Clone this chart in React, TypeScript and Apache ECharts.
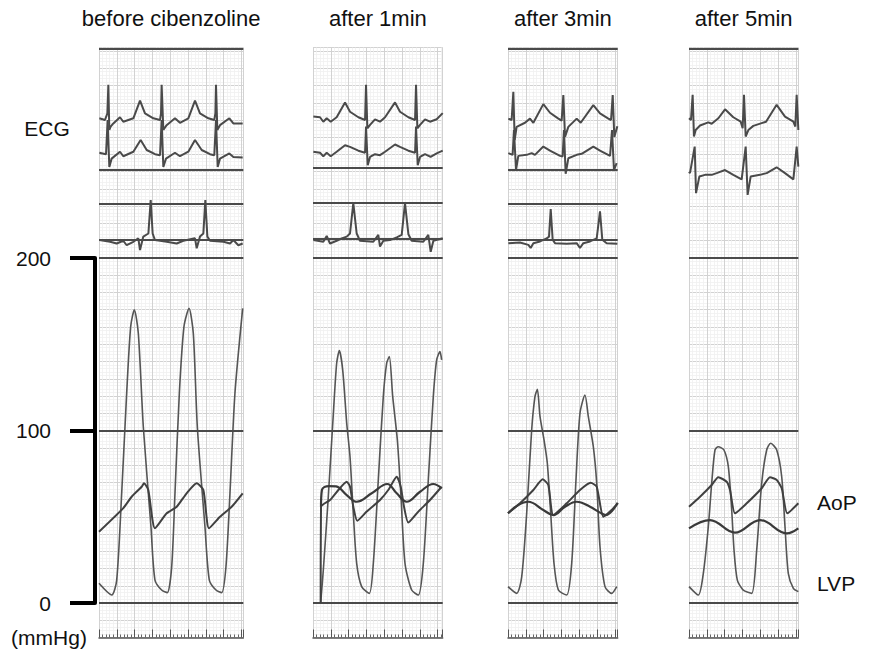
import React, { useEffect, useRef } from "react";
import * as echarts from "echarts";

// ---------- text ----------
const panelTitles = ["before cibenzoline", "after 1min", "after 3min", "after 5min"];
const pressureTicks = [0, 100, 200];

// ---------- pressure traces: [time s, mmHg] ----------
const lvp1 = [[0,11.4],[0.143,4.6],[0.199,13.3],[0.255,63.6],[0.311,121.6],[0.356,160.2],[0.397,169.9],[0.442,156.3],[0.498,102.2],[0.584,44.2],[0.629,13.3],[0.704,7.5],[0.768,6.0],[0.817,21.0],[0.854,63.6],[0.903,121.6],[0.955,160.2],[1.012,170.8],[1.06,156.3],[1.105,102.2],[1.191,44.2],[1.24,13.3],[1.315,7.5],[1.379,6.0],[1.427,21.0],[1.472,63.6],[1.528,121.6],[1.615,170.8]];
const aopA1 = [[0,41.3],[0.273,55.0],[0.367,61.6],[0.48,67.4],[0.506,69.4],[0.554,65.5],[0.629,43.3],[0.761,52.0],[0.873,55.8],[0.985,63.6],[1.098,69.4],[1.173,65.5],[1.236,43.3],[1.36,50.0],[1.491,55.8],[1.615,63.6]];

const lvp2 = [[0.086,0],[0.116,19.1],[0.172,61.6],[0.229,110],[0.266,139],[0.296,146.3],[0.334,135],[0.379,104.2],[0.416,84.8],[0.453,52],[0.491,23],[0.547,9.5],[0.633,5.6],[0.678,23],[0.734,71.3],[0.79,119.6],[0.828,139],[0.858,142.8],[0.896,119.6],[0.948,94.5],[0.989,61.6],[1.034,23],[1.109,7.5],[1.184,4.6],[1.24,23],[1.296,71.3],[1.352,119.6],[1.39,140.9],[1.427,145.7],[1.446,140.9]];
const aopA2 = [[0.086,0],[0.09,55.8],[0.191,59.7],[0.285,65.5],[0.379,70.3],[0.416,67.4],[0.453,55.8],[0.498,47.7],[0.604,53],[0.753,59.7],[0.846,65.5],[0.941,73.2],[0.986,67.4],[1.023,55.8],[1.071,46.6],[1.184,53],[1.315,59.7],[1.446,67.4]];
const aopB2 = [[0.09,55.8],[0.1,65.5],[0.18,67.8],[0.26,67.6],[0.379,62.6],[0.491,58.7],[0.66,63.6],[0.835,69],[0.941,63.6],[1.053,58.7],[1.203,64.5],[1.352,69],[1.446,66.5]];

const lvp3 = [[0,9.5],[0.098,5.6],[0.154,15.2],[0.21,52],[0.266,100.3],[0.303,119.6],[0.33,123.9],[0.36,108],[0.405,94.5],[0.442,81],[0.48,52],[0.517,23],[0.566,7.5],[0.66,4.6],[0.716,23],[0.764,71.3],[0.809,110],[0.865,120.6],[0.903,108],[0.959,90.6],[0.997,69.4],[1.034,32.6],[1.09,9.5],[1.165,5.6],[1.222,9.5]];
const aopA3 = [[0,52],[0.135,57.8],[0.285,65.5],[0.39,71.7],[0.453,68.4],[0.509,51],[0.66,57.8],[0.809,65.5],[0.929,69.7],[0.997,67.4],[1.071,50],[1.146,53],[1.233,57.8]];
const aopB3 = [[0,52],[0.116,56.8],[0.228,58.7],[0.397,53.9],[0.509,51],[0.641,55.8],[0.772,58.7],[0.922,55.8],[1.034,52.4],[1.101,51],[1.233,58.1]];

const lvp4 = [[0,9.5],[0.105,4.6],[0.161,17.2],[0.217,44.2],[0.255,69.4],[0.292,88.7],[0.329,90.6],[0.393,88.7],[0.442,79],[0.48,53.9],[0.506,30.7],[0.543,13.3],[0.61,7.5],[0.705,5.6],[0.761,30.7],[0.817,69.4],[0.873,88.7],[0.918,92.6],[0.986,88.7],[1.042,73.2],[1.079,44.2],[1.116,17.2],[1.173,8.5],[1.229,6.6]];
const aopA4 = [[0,55.8],[0.124,61.6],[0.255,68.4],[0.329,72.9],[0.424,70.3],[0.461,65.5],[0.517,52],[0.649,57.8],[0.817,66.5],[0.91,72.9],[0.986,71.3],[1.042,66.5],[1.105,52],[1.229,57.8]];
const aopB4 = [[0,43.3],[0.236,48.1],[0.517,40.8],[0.798,48.1],[1.098,40.4],[1.229,43.3]];

// ---------- ECG traces: [time s, mV relative to lead baseline] ----------
const ecgA1 = [[0.004,0.05],[0.067,0],[0.094,0.19],[0.105,1.02],[0.116,-0.29],[0.131,-0.19],[0.161,-0.1],[0.236,0.08],[0.273,-0.05],[0.386,0.05],[0.461,0.56],[0.517,0.19],[0.611,0.05],[0.686,0],[0.697,0.19],[0.704,1.02],[0.723,-0.29],[0.76,-0.15],[0.854,0.05],[0.91,-0.08],[1.004,0.05],[1.079,0.56],[1.135,0.19],[1.229,0.05],[1.296,0],[1.308,0.19],[1.315,1.02],[1.33,-0.29],[1.36,-0.15],[1.465,0.05],[1.51,-0.1],[1.615,-0.1]];
const ecgB1 = [[0.004,0.02],[0.079,-0.02],[0.097,0.97],[0.116,-0.39],[0.142,-0.15],[0.236,0.05],[0.273,-0.08],[0.386,0.05],[0.468,0.39],[0.536,0.1],[0.63,-0.02],[0.686,-0.05],[0.704,0.97],[0.723,-0.39],[0.753,-0.15],[0.854,0.02],[0.91,-0.08],[1.004,0.05],[1.079,0.39],[1.154,0.1],[1.248,-0.02],[1.296,-0.05],[1.315,0.97],[1.334,-0.39],[1.36,-0.15],[1.465,0],[1.51,-0.1],[1.615,-0.12]];
const ecgC1 = [[0.004,0],[0.124,-0.05],[0.199,-0.1],[0.273,-0.02],[0.311,-0.15],[0.386,-0.05],[0.442,0.05],[0.461,-0.29],[0.498,0.1],[0.555,0.19],[0.581,1.16],[0.603,0.19],[0.629,0],[0.761,-0.05],[0.873,-0.1],[0.948,-0.02],[1.079,0.05],[1.098,-0.24],[1.135,0.1],[1.173,0.19],[1.195,1.16],[1.218,0.1],[1.248,-0.02],[1.398,-0.05],[1.473,-0.1],[1.51,0],[1.566,-0.15],[1.615,-0.1]];

const ecgA2 = [[0.004,0.05],[0.079,0.03],[0.116,-0.1],[0.154,0],[0.199,-0.1],[0.266,0.03],[0.36,0.46],[0.416,0.19],[0.51,0.03],[0.585,-0.05],[0.596,0.97],[0.611,-0.29],[0.641,-0.19],[0.697,-0.03],[0.753,-0.1],[0.81,0.03],[0.922,0.46],[0.978,0.19],[1.072,0.03],[1.147,-0.05],[1.158,0.97],[1.173,-0.29],[1.203,-0.19],[1.259,-0.03],[1.315,-0.1],[1.39,-0.03],[1.458,0.15]];
const ecgB2 = [[0.004,0.03],[0.079,0],[0.116,-0.1],[0.154,0],[0.199,-0.1],[0.266,0.03],[0.36,0.22],[0.416,0.17],[0.51,0.06],[0.585,0],[0.596,0.76],[0.615,-0.36],[0.641,-0.12],[0.697,-0.04],[0.753,-0.07],[0.81,0.03],[0.922,0.24],[0.978,0.17],[1.072,0.06],[1.147,0],[1.158,0.76],[1.177,-0.36],[1.203,-0.12],[1.259,-0.04],[1.322,-0.12],[1.39,-0.02],[1.458,0.06]];
const ecgC2 = [[0.004,0],[0.116,-0.05],[0.154,0.12],[0.191,-0.1],[0.266,-0.02],[0.322,0.05],[0.379,0.1],[0.416,0.19],[0.453,1.07],[0.491,0.19],[0.528,-0.02],[0.678,-0.05],[0.734,0.15],[0.753,-0.19],[0.791,-0.02],[0.866,0],[0.941,0.08],[0.997,0.15],[1.034,1.07],[1.072,0.17],[1.109,-0.02],[1.24,-0.05],[1.296,0.15],[1.323,-0.34],[1.353,-0.02],[1.458,0.05]];

const ecgA3 = [[0.004,0.14],[0.041,0.1],[0.06,0.92],[0.075,-0.48],[0.097,-0.1],[0.191,0.02],[0.247,0.14],[0.285,0.02],[0.397,0.56],[0.472,0.31],[0.566,0.14],[0.603,0.08],[0.622,0.82],[0.641,-0.39],[0.678,-0.1],[0.772,0.14],[0.817,0.02],[0.959,0.53],[1.034,0.29],[1.128,0.14],[1.158,0.1],[1.177,0.82],[1.195,-0.39],[1.229,-0.08]];
const ecgB3 = [[0.004,0.1],[0.052,0.05],[0.067,0.77],[0.09,-0.39],[0.116,0.02],[0.21,0.05],[0.266,0.1],[0.303,0.05],[0.397,0.29],[0.472,0.17],[0.585,0.02],[0.614,0],[0.629,0.77],[0.648,-0.5],[0.678,-0.05],[0.772,0.05],[0.828,0.08],[0.959,0.29],[1.034,0.17],[1.147,0.02],[1.169,0.77],[1.191,-0.39],[1.221,-0.19]];
const ecgC3 = [[0.004,0],[0.135,0.02],[0.229,-0.05],[0.255,-0.14],[0.285,0],[0.36,0.05],[0.435,0.14],[0.461,0.19],[0.48,0.99],[0.502,0.1],[0.528,0],[0.659,-0.02],[0.772,0],[0.809,-0.14],[0.847,0],[0.922,0.05],[0.997,0.14],[1.034,0.92],[1.06,0.1],[1.109,0],[1.229,-0.02]];

const ecgA4 = [[0,0.24],[0.022,0.19],[0.041,0.92],[0.056,-0.29],[0.075,-0.1],[0.124,0.03],[0.217,0.12],[0.255,0.08],[0.33,0.24],[0.405,0.5],[0.498,0.27],[0.581,0.14],[0.603,-0.05],[0.618,0.92],[0.637,-0.29],[0.667,-0.1],[0.723,0.02],[0.817,0.1],[0.866,0.14],[0.985,0.63],[1.079,0.29],[1.173,0.14],[1.195,0],[1.21,0.92],[1.229,-0.1]];
const ecgB4 = [[0,0.14],[0.011,0.1],[0.064,0.87],[0.079,-0.48],[0.116,0],[0.18,0.05],[0.255,0.05],[0.311,0.1],[0.405,0.19],[0.498,0.05],[0.592,-0.08],[0.637,0.87],[0.659,-0.53],[0.693,0],[0.798,0.05],[0.873,0.1],[0.985,0.27],[1.079,0.1],[1.173,-0.08],[1.21,0.87],[1.229,0.29]];

const lvpSets = [lvp1, lvp2, lvp3, lvp4];
const aopASets = [aopA1, aopA2, aopA3, aopA4];
const aopBSets = [null, aopB2, aopB3, aopB4];
const ecgSets = [[ecgA1, ecgB1, ecgC1], [ecgA2, ecgB2, ecgC2], [ecgA3, ecgB3, ecgC3], [ecgA4, ecgB4]];

// ---------- layout ----------
const PX_PER_S = 88.97;
const PX_PER_MMHG = 1.725;
const ZERO_Y = 603;
const Y_MIN = -20;
const Y_MAX = 322;
const ECG_SCALE = 20; // mmHg-equivalent per mV on paper
const GRID_TOP = ZERO_Y - Y_MAX * PX_PER_MMHG;
const GRID_H = (Y_MAX - Y_MIN) * PX_PER_MMHG;
const layout = [
  { left: 99, tMax: 1.622, topLine: true, ecgLines: [12.57, 11.58, 10.54], base: [14.0, 13.03, 10.52] },
  { left: 313, tMax: 1.458, topLine: false, ecgLines: [12.61, 11.59, 10.55], base: [14.05, 13.05, 10.52] },
  { left: 508, tMax: 1.233, topLine: true, ecgLines: [12.57, 11.58, 10.54], base: [13.9, 12.94, 10.43] },
  { left: 689, tMax: 1.229, topLine: true, ecgLines: [], base: [13.81, 12.36] },
];
const FONT = "'Liberation Sans', Arial, Helvetica, sans-serif";
const MAJOR = "#d2d2d2";
const MINOR = "#f0f0f0";
const HEAVY = "#4a4a4a";
const TRACE = "#4a4a4a";

function buildOption() {
  const grids: any[] = [];
  const xAxes: any[] = [];
  const yAxes: any[] = [];
  const series: any[] = [];
  const graphics: any[] = [];

  const heavyLine = (vals: number[]) => ({
    silent: true,
    symbol: ["none", "none"],
    label: { show: false },
    emphasis: { disabled: true },
    lineStyle: { color: HEAVY, width: 2, type: "solid" },
    data: vals.map((v) => ({ yAxis: v })),
  });

  layout.forEach((p, i) => {
    const w = p.tMax * PX_PER_S;
    grids.push({ left: p.left, top: GRID_TOP, width: w, height: GRID_H });
    xAxes.push({
      type: "value", gridIndex: i, min: 0, max: p.tMax, interval: 0.2, position: "bottom",
      axisLine: { show: true, onZero: false, lineStyle: { color: "#555", width: 1.5 } },
      axisTick: { show: true, inside: true, length: 8, lineStyle: { color: "#555", width: 1 } },
      minorTick: { show: true, splitNumber: 5, length: 3, lineStyle: { color: "#666", width: 1 } },
      axisLabel: { show: false },
      splitLine: { show: true, lineStyle: { color: MAJOR, width: 1 } },
      minorSplitLine: { show: true, lineStyle: { color: MINOR, width: 0.8 } },
    });
    yAxes.push({
      type: "value", gridIndex: i, min: Y_MIN, max: Y_MAX, interval: 10,
      axisLine: { show: false }, axisTick: { show: false }, axisLabel: { show: false },
      minorTick: { show: false, splitNumber: 5 },
      splitLine: { show: true, lineStyle: { color: MAJOR, width: 1 } },
      minorSplitLine: { show: true, lineStyle: { color: MINOR, width: 0.8 } },
    });
    yAxes.push({
      type: "value", gridIndex: i, show: false,
      min: Y_MIN / ECG_SCALE, max: Y_MAX / ECG_SCALE,
      splitLine: { show: false },
    });

    const pLines = [...pressureTicks];
    if (p.topLine) pLines.push(321.4);

    series.push({
      type: "line", name: "LVP", xAxisIndex: i, yAxisIndex: 2 * i, data: lvpSets[i],
      showSymbol: false, smooth: 0.25, z: 4,
      lineStyle: { color: "#555", width: 1.6 },
      markLine: heavyLine(pLines),
    });
    series.push({
      type: "line", name: "AoP", xAxisIndex: i, yAxisIndex: 2 * i, data: aopASets[i],
      showSymbol: false, smooth: 0.2, z: 5,
      lineStyle: { color: "#404040", width: 2 },
    });
    if (aopBSets[i]) {
      series.push({
        type: "line", name: "AoP mean", xAxisIndex: i, yAxisIndex: 2 * i, data: aopBSets[i],
        showSymbol: false, smooth: 0.4, z: 5,
        lineStyle: { color: "#3a3a3a", width: 2.2 },
      });
    }
    ecgSets[i].forEach((lead, k) => {
      const s: any = {
        type: "line", name: "ECG" + k, xAxisIndex: i, yAxisIndex: 2 * i + 1,
        data: lead.map(([t, v]) => [t, v + p.base[k]]),
        showSymbol: false, smooth: false, z: 5,
        lineStyle: { color: TRACE, width: 2 },
      };
      if (k === 0 && p.ecgLines.length) s.markLine = heavyLine(p.ecgLines);
      series.push(s);
    });

    graphics.push({
      type: "text", x: p.left + w / 2, y: 18,
      style: { text: panelTitles[i], font: `22px ${FONT}`, fill: "#111", textAlign: "center", textVerticalAlign: "middle" },
    });
  });

  // left pressure scale
  grids.push({ left: 95, top: ZERO_Y - 200 * PX_PER_MMHG, width: 1, height: 200 * PX_PER_MMHG });
  xAxes.push({ type: "value", gridIndex: 4, show: false, min: 0, max: 1 });
  yAxes.push({
    type: "value", gridIndex: 4, min: 0, max: 200, interval: 100, position: "left",
    axisLine: { show: true, lineStyle: { color: "#000", width: 4 } },
    axisTick: { show: true, length: 25, lineStyle: { color: "#000", width: 4 } },
    axisLabel: { show: true, margin: 44, fontSize: 21, color: "#111", fontFamily: FONT },
    splitLine: { show: false },
  });

  const txt = (text: string, x: number, y: number, align: string) => ({
    type: "text", x, y,
    style: { text, font: `21px ${FONT}`, fill: "#111", textAlign: align, textVerticalAlign: "middle" },
  });
  graphics.push(txt("ECG", 47, 128, "center"));
  graphics.push(txt("(mmHg)", 49, 637, "center"));
  graphics.push(txt("AoP", 817, 502, "left"));
  graphics.push(txt("LVP", 817, 583, "left"));

  return {
    animation: false,
    backgroundColor: "#ffffff",
    grid: grids,
    xAxis: xAxes,
    yAxis: yAxes,
    series,
    graphic: graphics,
  };
}

export default function App() {
  const ref = useRef<HTMLDivElement>(null);
  useEffect(() => {
    if (!ref.current) return;
    const chart = echarts.init(ref.current, null, { renderer: "svg" });
    chart.setOption(buildOption() as any);
    return () => chart.dispose();
  }, []);
  return (
    <div
      ref={ref}
      style={{ position: "fixed", left: 0, top: 0, width: 872, height: 656, background: "#fff" }}
    />
  );
}
